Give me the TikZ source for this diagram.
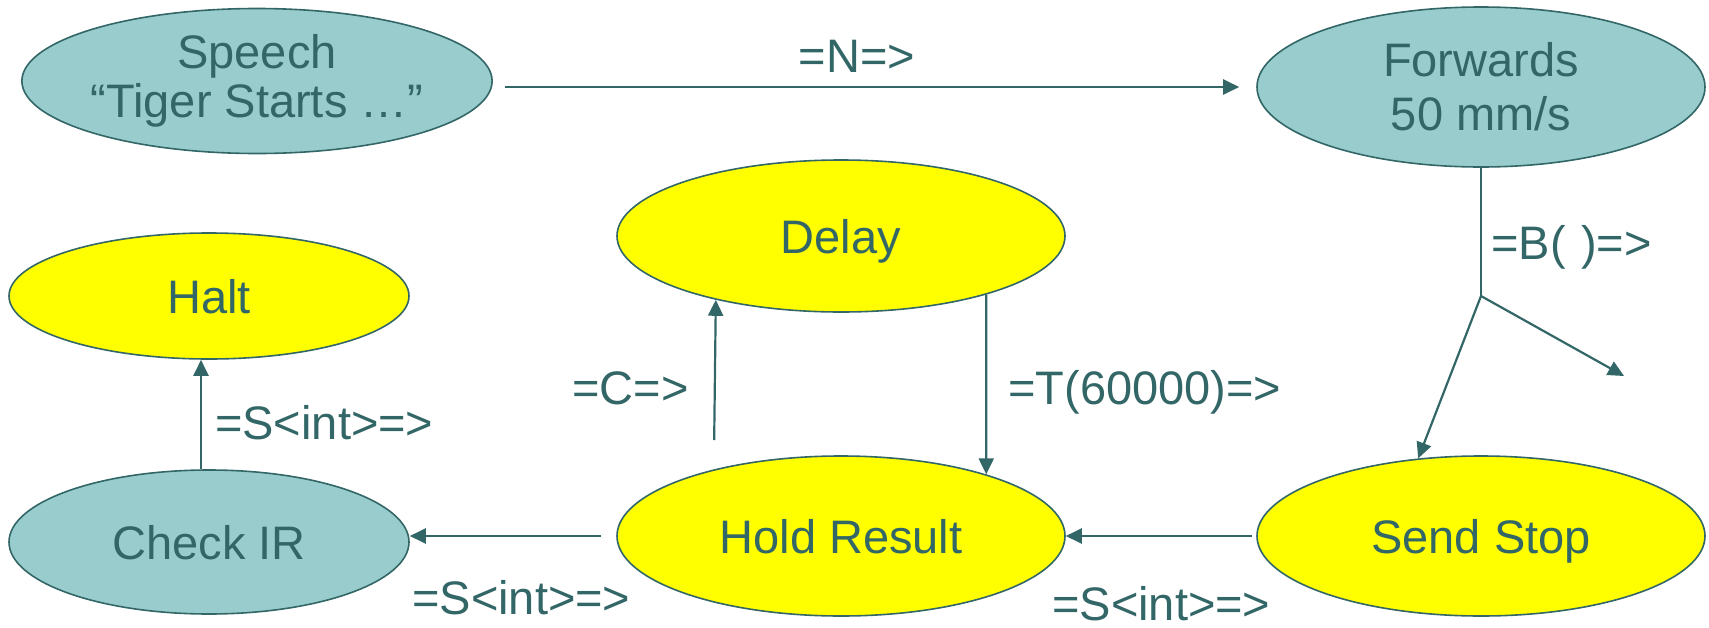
\documentclass[tikz,border=0pt]{standalone}
\usepackage{fontspec}
\setmainfont{Liberation Sans}
\usetikzlibrary{shapes.geometric,arrows.meta}
\definecolor{ink}{HTML}{336666}
\definecolor{teal}{HTML}{99CCCC}
\definecolor{yel}{HTML}{FFFF00}
\begin{document}
\begin{tikzpicture}[x=1pt,y=-1pt,
  every node/.style={font=\fontsize{47}{54}\selectfont, text=ink},
  st/.style={ellipse, draw=ink, line width=1.6pt, inner sep=0pt, align=center},
  tealst/.style={st, fill=teal},
  yelst/.style={st, fill=yel},
  one/.style={text height=34pt, text depth=0pt},
  arr/.style={draw=ink, line width=2.2pt, -{Triangle[length=16pt,width=15pt]}},
  ln/.style={draw=ink, line width=2.2pt},
  lab/.style={inner sep=0pt}]
\useasboundingbox (0,0) rectangle (1709,627);

\node[tealst, minimum width=466pt, minimum height=145pt] (speech) at (257,81) {Speech\\[-5pt]``Tiger Starts …''};
\node[tealst, minimum width=448pt, minimum height=160pt] (fw) at (1481,87) {Forwards\\50 mm/s};
\node[yelst, one, minimum width=400pt, minimum height=126pt] (halt) at (209,296) {Halt};
\node[yelst, one, minimum width=448pt, minimum height=152pt] (delay) at (841,236) {Delay};
\node[tealst, one, minimum width=400pt, minimum height=144pt] (check) at (209,542) {Check IR};
\node[yelst, one, minimum width=448pt, minimum height=160pt] (hold) at (841,536) {Hold Result};
\node[yelst, one, minimum width=448pt, minimum height=160pt] (ss) at (1481,536) {Send Stop};

\coordinate (split) at (1481,296);
\coordinate (freeend) at (1624,376);
\coordinate (hx) at (201,0);
\coordinate (cx) at (714,0);

% =N=>
\draw[arr, shorten <=12pt, shorten >=17pt] (speech.east |- fw.west) -- (fw.west);
\node[lab, anchor=base] (nlab) at (857,72) {=N=>};

% =B( )=>
\draw[ln] (fw.south) -- (split);
\draw[arr] (split) -- (ss.129.4);
\draw[arr] (split) -- (freeend);
\node[lab, anchor=base west] (blab) at (1491,259) {=B(\,\,)=>};

% Send Stop -> Hold Result
\draw[arr, shorten <=4pt] (ss.west) -- (hold.east);
\node[lab, anchor=base west] (s3) at (1052,620) {=S<int>=>};

% Hold Result -> Check IR
\draw[arr, shorten <=15pt] (hold.west) -- (check.east |- hold.west);
\node[lab, anchor=base west] (s2) at (412,614) {=S<int>=>};

% Check IR -> Halt
\draw[arr] (check.north -| hx) -- (halt.south -| hx);
\node[lab, anchor=base west] (s1) at (215,439) {=S<int>=>};

% Hold -> Delay (=C=>)
\draw[arr, shorten <=15pt] (hold.north -| cx) -- (delay.-153.8);
\node[lab, anchor=base east] (clab) at (689,404) {=C=>};

% Delay -> Hold (=T(60000)=>)
\draw[arr] (delay.-22.0) -- (hold.23.1);
\node[lab, anchor=base west] (tlab) at (1008,404) {=T(60000)=>};
\end{tikzpicture}
\end{document}
